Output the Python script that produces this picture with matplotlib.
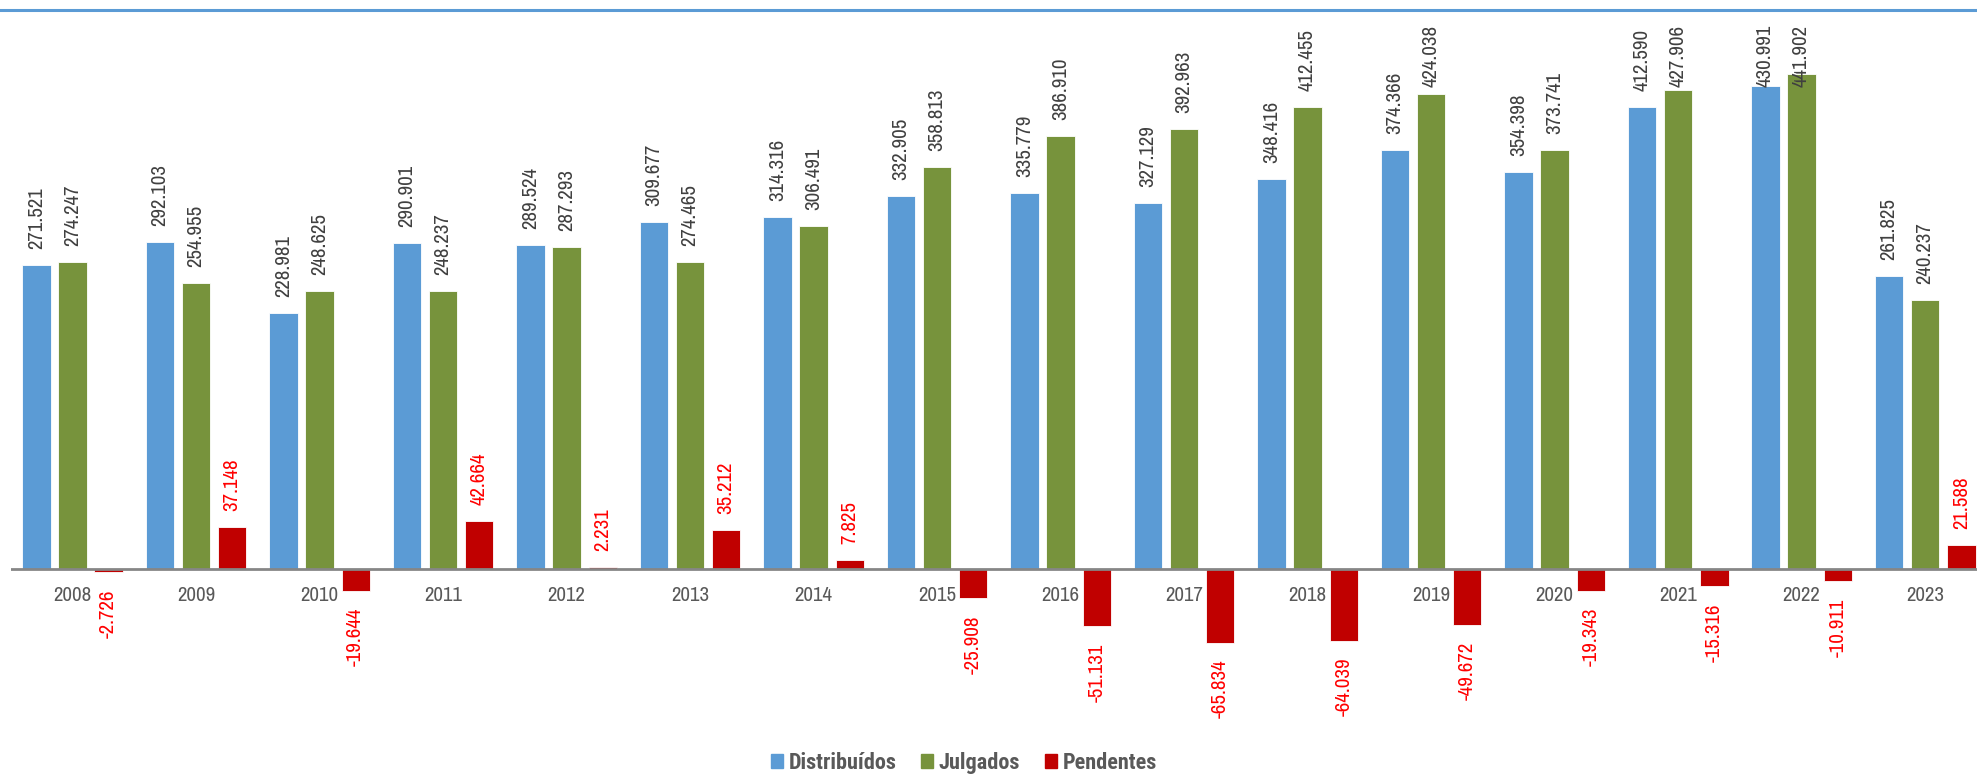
import matplotlib.pyplot as plt
import numpy as np
from matplotlib.patches import Patch
from matplotlib.lines import Line2D

plt.rcParams['font.family'] = ['Archivo Narrow', 'Liberation Sans', 'DejaVu Sans']

anos = ['2008', '2009', '2010', '2011', '2012', '2013', '2014', '2015',
        '2016', '2017', '2018', '2019', '2020', '2021', '2022', '2023']
distribuidos = [271521, 292103, 228981, 290901, 289524, 309677, 314316, 332905,
                335779, 327129, 348416, 374366, 354398, 412590, 430991, 261825]
julgados = [274247, 254955, 248625, 248237, 287293, 274465, 306491, 358813,
            386910, 392963, 412455, 424038, 373741, 427906, 441902, 240237]
pendentes = [-2726, 37148, -19644, 42664, 2231, 35212, 7825, -25908,
             -51131, -65834, -64039, -49672, -19343, -15316, -10911, 21588]

c_dist = '#5B9BD5'
c_julg = '#77933C'
c_pend = '#C00000'

W, H = 1977, 778
fig = plt.figure(figsize=(W / 100, H / 100), dpi=100)
# plot area in pixels: left 11, top 25, bottom 700
ax = fig.add_axes([11 / W, (H - 700) / H, (W - 11) / W, 675 / H])

x = np.arange(len(anos))
off = 0.293
bw = 0.23
series = [(distribuidos, c_dist, -off, '#404040'),
          (julgados, c_julg, 0, '#404040'),
          (pendentes, c_pend, off, '#FF0000')]

for vals, cor, dx, _ in series:
    ax.bar(x + dx, vals, width=bw, color=cor, edgecolor='white', linewidth=0.6)

ax.set_xlim(-0.498, 15.42)
ppu = 0.00112  # pixels per unit
ax.set_ylim(-(700 - 569) / ppu, (569 - 25) / ppu)

for s in ax.spines.values():
    s.set_visible(False)
ax.spines['bottom'].set_position(('data', 0))
ax.axhline(0, color='#868686', linewidth=2, zorder=3)
ax.set_yticks([])
ax.set_xticks(x)
ax.set_xticklabels(anos, fontsize=15, color='#595959')
ax.tick_params(axis='x', length=0, pad=12)

def fmt(v):
    return f'{v:,}'.replace(',', '.')

labels = []
for vals, cor, dx, tcor in series:
    for xi, v in zip(x, vals):
        if v >= 0:
            t = ax.annotate(fmt(v), xy=(xi + dx, v), xytext=(0, 16), textcoords='offset pixels',
                            rotation=90, ha='center', va='bottom', fontsize=15, color=tcor,
                            annotation_clip=False)
            labels.append(t)
        else:
            ax.annotate(fmt(v), xy=(xi + dx, v), xytext=(0, -17), textcoords='offset pixels',
                        rotation=90, ha='center', va='top', fontsize=15, color=tcor,
                        annotation_clip=False)

# keep the value labels inside the plot area
fig.canvas.draw()
r = fig.canvas.get_renderer()
top = ax.get_window_extent(r).y1
for t in labels:
    bb = t.get_window_extent(r)
    if bb.y1 > top:
        t.xyann = (0, 16 - (bb.y1 - top))

# blue rule along the top
fig.add_artist(Line2D([0, 1], [1 - 10 / H, 1 - 10 / H], color=c_dist, linewidth=2.2,
                      transform=fig.transFigure))

handles = [Patch(color=c_dist, label='Distribuídos'),
           Patch(color=c_julg, label='Julgados'),
           Patch(color=c_pend, label='Pendentes')]
leg = fig.legend(handles=handles, loc='center', bbox_to_anchor=(0.4876, 15 / H), ncol=3,
                 frameon=False, handlelength=0.55, handleheight=0.55, handletextpad=0.25,
                 columnspacing=1.1,
                 prop={'family': 'Roboto Condensed', 'size': 16, 'weight': 'bold'})
for txt in leg.get_texts():
    txt.set_color('#595959')

fig.savefig('out.png', dpi=100)
